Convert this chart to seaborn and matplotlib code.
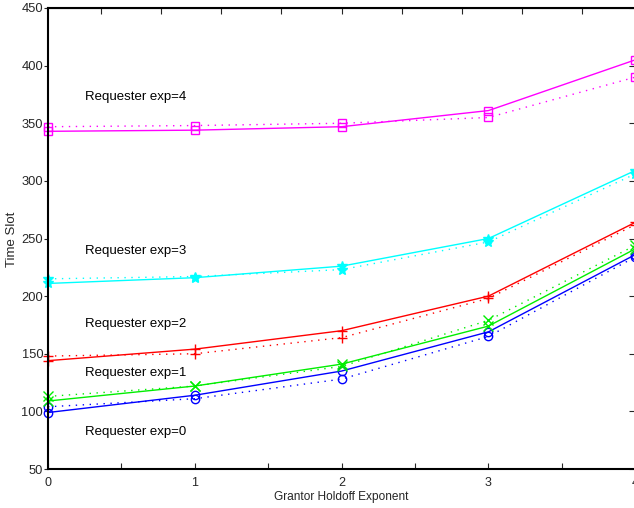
import numpy as np
import pandas as pd
import matplotlib
matplotlib.use("Agg")
import matplotlib.pyplot as plt
import seaborn as sns

sns.set_style("white")
plt.rcParams['font.family'] = ['Liberation Sans', 'DejaVu Sans']

x_vals = [0, 1, 2, 3, 4]

exp0_solid = [99, 114, 135, 169, 236]
exp0_dotted = [104, 111, 128, 165, 234]
exp1_solid = [109, 122, 141, 174, 241]
exp1_dotted = [113, 122, 139, 179, 244]
exp2_solid = [144, 154, 170, 200, 264]
exp2_dotted = [148, 150, 164, 198, 262]
exp3_solid = [211, 216, 226, 250, 309]
exp3_dotted = [215, 217, 223, 247, 306]
exp4_solid = [343, 344, 347, 361, 405]
exp4_dotted = [347, 348, 350, 355, 390]

labels = ["Requester exp=0", "Requester exp=1", "Requester exp=2",
          "Requester exp=3", "Requester exp=4"]
label_y = [82, 133, 176, 239, 373]

series = [
    (exp0_solid, exp0_dotted, "#0000ff", "o"),
    (exp1_solid, exp1_dotted, "#00ee00", "x"),
    (exp2_solid, exp2_dotted, "#ff0000", "+"),
    (exp3_solid, exp3_dotted, "#00ffff", "*"),
    (exp4_solid, exp4_dotted, "#ff00ff", "s"),
]

fig = plt.figure(figsize=(6.34, 5.08), dpi=100)
ax = fig.add_axes([48/634, 1-469/508, (634-48)/634 + 0.002, (469-8)/508])

for solid, dotted, color, mk in series:
    mfc = 'none' if mk in ('o', 's') else color
    ms = 7 if mk in ('+', 'x', '*') else 6
    df_s = pd.DataFrame({"x": x_vals, "y": solid})
    df_d = pd.DataFrame({"x": x_vals, "y": dotted})
    sns.lineplot(data=df_s, x="x", y="y", ax=ax, color=color, linewidth=1.0,
                 marker=mk, markersize=ms, markerfacecolor=mfc,
                 markeredgecolor=color, markeredgewidth=1.0, clip_on=False)
    sns.lineplot(data=df_d, x="x", y="y", ax=ax, color=color, linewidth=1.0,
                 linestyle=(0, (1, 4)), marker=mk, markersize=ms,
                 markerfacecolor=mfc, markeredgecolor=color,
                 markeredgewidth=1.0, clip_on=False)

for lab, ly in zip(labels, label_y):
    ax.text(0.25, ly, lab, fontsize=9.5, ha='left', va='center', color='black')

ax.set_xlim(0, 4)
ax.set_ylim(50, 450)
ax.set_xticks([0, 1, 2, 3, 4])
ax.set_xticks(np.arange(0, 4.01, 0.5), minor=True)
ax.set_yticks(np.arange(50, 451, 50))
ax.set_xlabel("Grantor Holdoff Exponent", fontsize=8.6, labelpad=1.5)
ax.set_ylabel("Time Slot", fontsize=9.5)
ax.yaxis.set_label_coords(-0.0512, 0.499)
ax.tick_params(axis='x', which='both', direction='in', length=4, labelsize=9,
               bottom=True, top=False, pad=6, width=0.8)
ax.tick_params(axis='y', which='both', direction='out', length=3, labelsize=9.3,
               left=True, right=False, pad=0.5, width=0.8)
for s in ax.spines.values():
    s.set_linewidth(1.5)
    s.set_color('black')

sec_y = ax.secondary_yaxis('right')
sec_y.set_yticks(np.arange(50, 451, 50))
sec_y.tick_params(direction='in', length=4, labelright=False, width=0.8)
sec_x = ax.secondary_xaxis('top')
sec_x.set_xticks(np.arange(0.36, 4.0, 0.41))
sec_x.tick_params(direction='in', length=4, labeltop=False, width=0.8)

ax.set_facecolor('white')
fig.patch.set_facecolor('white')
fig.savefig("out.png", dpi=100)
